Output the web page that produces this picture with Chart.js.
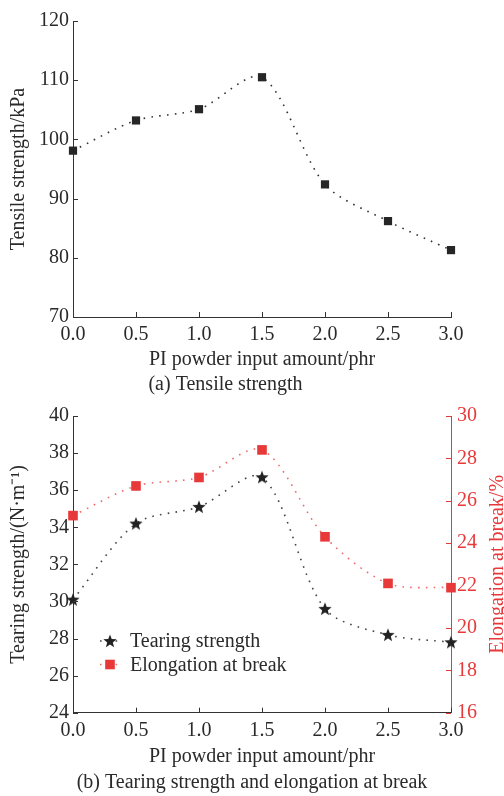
<!DOCTYPE html>
<html><head><meta charset="utf-8">
<script src="https://cdn.jsdelivr.net/npm/chart.js@4/dist/chart.umd.min.js"></script>
<style>
html,body{margin:0;padding:0;background:#fff;}
#wrap{position:relative;width:504px;height:796px;overflow:hidden;background:#fff;}
canvas{position:absolute;left:0;}
#c1{top:0;} #c2{top:398px;}
</style></head><body>
<div id="wrap"><canvas id="c1" width="504" height="398"></canvas><canvas id="c2" width="504" height="398"></canvas></div>
<script>
// ---- data ----
const xValues = [0.0, 0.5, 1.0, 1.5, 2.0, 2.5, 3.0];
const tensileStrength = [98.1, 103.2, 105.1, 110.5, 92.4, 86.2, 81.3];
const tearingStrength = [30.1, 34.2, 35.1, 36.7, 29.6, 28.2, 27.8];
const elongationAtBreak = [25.3, 26.7, 27.1, 28.4, 24.3, 22.1, 21.9];
const xTicks = [0, 0.5, 1.0, 1.5, 2.0, 2.5, 3.0];
const tensileTicks = [70, 80, 90, 100, 110, 120];
const tearingTicks = [24, 26, 28, 30, 32, 34, 36, 38, 40];
const elongationTicks = [16, 18, 20, 22, 24, 26, 28, 30];
const xTitle = 'PI powder input amount/phr';
const tensileTitle = 'Tensile strength/kPa';
const tearingTitle = 'Tearing strength/(N\u00B7m\u207B\u00B9)';
const elongationTitle = 'Elongation at break/%';
const captionA = '(a) Tensile strength';
const captionB = '(b) Tearing strength and elongation at break';
const seriesNames = ['Tearing strength', 'Elongation at break'];

const FONT = '"Liberation Serif", "Times New Roman", serif';
const INK = '#2a2a2a';
const RED = '#e8393a';
Chart.defaults.font.family = FONT;
Chart.defaults.font.size = 20;
Chart.defaults.color = INK;

function pts(ys){ return xValues.map((x,i)=>({x:x, y:ys[i]})); }

function makeStar(size, color){
  const c = document.createElement('canvas'); c.width = c.height = size;
  const g = c.getContext('2d');
  const cx = size/2, cy = size/2 + 0.5, R = size/2, r = R*0.42;
  g.beginPath();
  for (let i=0;i<10;i++){ const a = -Math.PI/2 + i*Math.PI/5; const rr = i%2 ? r : R; g.lineTo(cx+rr*Math.cos(a), cy+rr*Math.sin(a)); }
  g.closePath(); g.fillStyle = color; g.fill();
  return c;
}
const starImg = makeStar(14, '#222');

// inward tick marks
const inTicks = {
  id:'inTicks',
  afterDatasetsDraw(chart){
    const ctx = chart.ctx, a = chart.chartArea;
    ctx.save(); ctx.lineWidth = 1;
    Object.values(chart.scales).forEach(s=>{
      const col = s.options.border.color;
      ctx.strokeStyle = col;
      s.ticks.forEach(t=>{
        ctx.beginPath();
        if (s.axis === 'x'){ const px = Math.round(s.getPixelForValue(t.value))+0.5; ctx.moveTo(px, a.bottom); ctx.lineTo(px, a.bottom-5); }
        else if (s.position === 'left'){ const py = Math.round(s.getPixelForValue(t.value))+0.5; ctx.moveTo(a.left, py); ctx.lineTo(a.left+5, py); }
        else { const py = Math.round(s.getPixelForValue(t.value))+0.5; ctx.moveTo(a.right, py); ctx.lineTo(a.right-5, py); }
        ctx.stroke();
      });
    });
    ctx.restore();
  }
};

// right axis title reading bottom-to-top
const rightTitle = {
  id:'rightTitle',
  afterDraw(chart){
    const s = chart.scales.y1; if (!s) return;
    const ctx = chart.ctx, a = chart.chartArea;
    ctx.save();
    ctx.translate(s.right - 6, (a.top + a.bottom)/2);
    ctx.rotate(-Math.PI/2);
    ctx.font = '20px ' + FONT; ctx.fillStyle = RED; ctx.textAlign = 'center'; ctx.textBaseline = 'middle';
    ctx.fillText(elongationTitle, 0, 0);
    ctx.restore();
  }
};

// legend inside chart area
const inLegend = {
  id:'inLegend',
  afterDraw(chart){
    const ctx = chart.ctx, a = chart.chartArea;
    chart.data.datasets.forEach((ds,i)=>{
      const y = a.top + 225 + i*23.5;
      const x0 = a.left + 27, x1 = a.left + 47;
      ctx.save();
      ctx.strokeStyle = ds.borderColor; ctx.lineWidth = ds.borderWidth; ctx.setLineDash(ds.borderDash);
      ctx.beginPath(); ctx.moveTo(x0, y); ctx.lineTo(x1, y); ctx.stroke();
      ctx.setLineDash([]);
      const mx = (x0+x1)/2;
      if (ds.pointStyle instanceof HTMLCanvasElement){ ctx.drawImage(ds.pointStyle, mx-ds.pointStyle.width/2, y-ds.pointStyle.height/2); }
      else { const s = ds.pointRadius*Math.SQRT1_2; ctx.fillStyle = ds.pointBackgroundColor; ctx.fillRect(mx-s, y-s, 2*s, 2*s); }
      ctx.font = '20px ' + FONT; ctx.fillStyle = INK; ctx.textAlign='left'; ctx.textBaseline='middle';
      ctx.fillText(ds.label, a.left + 57, y+1);
      ctx.restore();
    });
  }
};

function xScale(h, pad){
  return {
    type:'linear', min:0, max:3, position:'bottom',
    afterBuildTicks(s){ s.ticks = xTicks.map(v=>({value:v})); },
    afterFit(s){ s.height = h; },
    ticks:{ color:INK, padding:6, font:{size:20}, callback:v=>Number(v).toFixed(1), maxRotation:0, autoSkip:false },
    grid:{ display:false, drawTicks:false },
    border:{ display:true, color:'#333', width:1 },
    title:{ display:true, text:xTitle, color:INK, font:{size:20}, padding:{top:pad,bottom:pad} }
  };
}
function yScale(min, max, tickArr, title, pos, color, width){
  return {
    type:'linear', min:min, max:max, position:pos,
    afterBuildTicks(s){ s.ticks = tickArr.map(v=>({value:v})); },
    afterFit(s){ s.width = width; },
    ticks:{ color:color, padding:pos==='left'?4:6, font:{size:20} },
    grid:{ display:false, drawTicks:false },
    border:{ display:true, color:color === INK ? '#333' : color, width:1 },
    title:{ display: !!title, text:title, color:color, font:{size:20}, padding:{top:6.5,bottom:0} }
  };
}

// ---- Chart (a) ----
new Chart(document.getElementById('c1'), {
  type:'line',
  data:{ datasets:[{
    label:'Tensile strength', data:pts(tensileStrength),
    borderColor:'#333', borderWidth:1.6, borderDash:[1.6,6.2], tension:0.3,
    pointStyle:'rect', pointRadius:5.8, pointBackgroundColor:'#262626', pointBorderWidth:0, pointBorderColor:'#262626'
  }]},
  options:{
    responsive:false, animation:false, clip:false,
    layout:{ padding:{ left:0, right:53, top:21, bottom:0 } },
    plugins:{ legend:{display:false}, tooltip:{enabled:false},
      title:{ display:true, position:'bottom', text:captionA, color:INK, font:{size:20, weight:'normal'}, padding:{top:0,bottom:1} } },
    scales:{ x:xScale(56, 1), y:yScale(70, 120, tensileTicks, tensileTitle, 'left', INK, 73) }
  },
  plugins:[inTicks]
});

// ---- Chart (b) ----
new Chart(document.getElementById('c2'), {
  type:'line',
  data:{ datasets:[{
    label:seriesNames[0], data:pts(tearingStrength), yAxisID:'y',
    borderColor:'#444', borderWidth:1.6, borderDash:[1.6,6.2], tension:0.3,
    pointStyle:starImg, pointRadius:7
  },{
    label:seriesNames[1], data:pts(elongationAtBreak), yAxisID:'y1',
    borderColor:'#f06a6a', borderWidth:1.6, borderDash:[1.6,6.2], tension:0.3,
    pointStyle:'rect', pointRadius:6.8, pointBackgroundColor:RED, pointBorderWidth:0, pointBorderColor:RED
  }]},
  options:{
    responsive:false, animation:false, clip:false,
    layout:{ padding:{ left:0, right:0, top:18, bottom:0 } },
    plugins:{ legend:{display:false}, tooltip:{enabled:false},
      title:{ display:true, position:'bottom', text:captionB, color:INK, font:{size:20, weight:'normal'}, padding:{top:0,bottom:1} } },
    scales:{
      x:xScale(58.3, 2.3),
      y:yScale(24, 40, tearingTicks, tearingTitle, 'left', INK, 73),
      y1:yScale(16, 30, elongationTicks, '', 'right', RED, 53)
    }
  },
  plugins:[inTicks, rightTitle, inLegend]
});
</script>
</body></html>
